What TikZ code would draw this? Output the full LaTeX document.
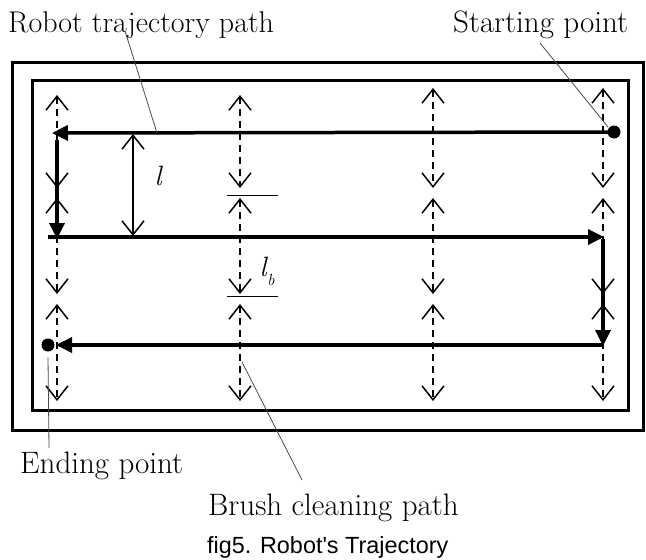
\documentclass[tikz,border=0pt]{standalone}
\usepackage{fontspec}
\newfontfamily\capfont{Liberation Sans}
\usetikzlibrary{arrows.meta}
\begin{document}
\begin{tikzpicture}[x=1pt,y=-1pt,
  frame/.style={line width=3pt},
  barb/.tip={Straight Barb[length=14pt,width=22pt,line width=1.5pt]},
  brush/.style={line width=1.8pt, dash pattern=on 7pt off 5pt, barb-barb},
  robot/.style={line width=3.5pt, -{Triangle[length=16pt,width=15pt]}},
  dimline/.style={line width=1.3pt, barb-barb},
  tick/.style={line width=1pt},
  leader/.style={line width=0.8pt, draw=black!70},
  lbl/.style={font=\fontsize{31}{33}\selectfont, inner sep=0pt},
  caplbl/.style={font=\capfont\fontsize{23.4}{25}\selectfont, inner sep=0pt},
  dot/.style={circle, fill=black, inner sep=0pt, minimum size=13pt}]
\useasboundingbox (0,0) rectangle (646,560);
% frames
\draw[frame] (12,62) rectangle (643,430);
\draw[frame] (32,80) rectangle (628,410);
% brush columns
\foreach \x/\t in {57/95, 240/95, 433/88, 603/88} {
  \coordinate (a\x) at (\x,\t);
  \coordinate (b\x) at (\x,188);
  \coordinate (c\x) at (\x,198);
  \coordinate (d\x) at (\x,294);
  \coordinate (e\x) at (\x,304);
  \coordinate (f\x) at (\x,401);
  \draw[brush] (a\x) -- (b\x);
  \draw[brush] (c\x) -- (d\x);
  \draw[brush] (e\x) -- (f\x);
}
% robot path
\node[dot] (start) at (614,132) {};
\node[dot] (end) at (48,345) {};
\coordinate (p1) at (52,133);
\coordinate (p2) at (57,140);
\coordinate (p3) at (57,239);
\coordinate (p4) at (48,237);
\coordinate (p5) at (604,237);
\coordinate (p6) at (603,239);
\coordinate (p7) at (603,346);
\coordinate (p8) at (603,345);
\coordinate (p9) at (56,345);
\draw[robot] (start.center) -- (p1);
\draw[robot] (p2) -- (p3);
\draw[robot] (p4) -- (p5);
\draw[robot] (p6) -- (p7);
\draw[robot] (p8) -- (p9);
% dimension l
\coordinate (l1) at (133,134);
\coordinate (l2) at (133,236);
\draw[dimline] (l1) -- (l2);
\node[font=\fontsize{28}{30}\selectfont\itshape, inner sep=0pt] (lab) at (158,176) {l};
% dimension lb
\coordinate (t1) at (227,195);
\coordinate (t2) at (278,195);
\coordinate (t3) at (227,296);
\coordinate (t4) at (278,296);
\draw[tick] (t1) -- (t2);
\draw[tick] (t3) -- (t4);
\node[font=\fontsize{28}{30}\selectfont\itshape, inner sep=0pt] (lb) at (263,267) {l};
\node[font=\fontsize{16}{17}\selectfont\itshape, inner sep=0pt] (lbs) at (271,280) {b};
% labels
\node[lbl, font=\fontsize{30}{32}\selectfont, anchor=base west] (rtp) at (8,32) {Robot trajectory path};
\node[lbl, anchor=base west] (sp) at (453,32) {Starting point};
\node[lbl, anchor=base west] (ep) at (20,473) {Ending point};
\node[lbl, anchor=base west] (bcp) at (208,515) {Brush cleaning path};
\node[caplbl, anchor=base west] (cap) at (207,553) {fig5. Robot's Trajectory};
% leaders
\coordinate (r1) at (125,31);
\coordinate (r2) at (157,133);
\coordinate (s1) at (540,43);
\coordinate (s2) at (608,127);
\coordinate (e1) at (48,357);
\coordinate (e2) at (49,448);
\coordinate (k1) at (242,362);
\coordinate (k2) at (302,480);
\draw[leader] (r1) -- (r2);
\draw[leader] (s1) -- (s2);
\draw[leader] (e1) -- (e2);
\draw[leader] (k1) -- (k2);
\end{tikzpicture}
\end{document}
